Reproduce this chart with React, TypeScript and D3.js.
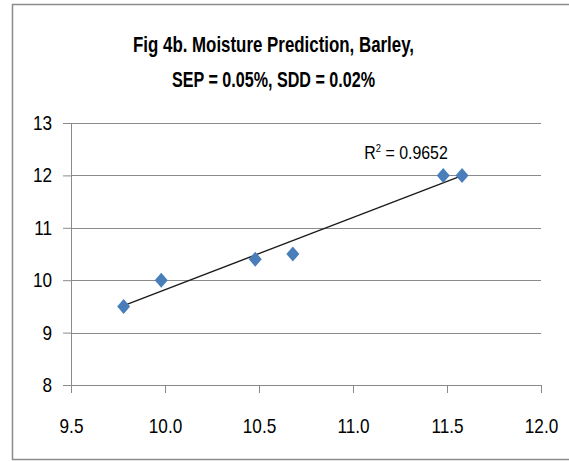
import React, { useEffect, useRef } from "react";
import * as d3 from "d3";

// Reference vs predicted moisture, barley
const predicted = [9.78, 9.98, 10.48, 10.68, 11.48, 11.58];
const reference = [9.5, 10.0, 10.4, 10.5, 12.0, 12.0];
const xTicks = [9.5, 10.0, 10.5, 11.0, 11.5, 12.0];
const yTicks = [8, 9, 10, 11, 12, 13];
const titleLines = ["Fig 4b. Moisture Prediction, Barley,", "SEP = 0.05%, SDD = 0.02%"];
const r2Label = "0.9652";

const WIDTH = 569;
const HEIGHT = 462;
const FONT = "'Liberation Sans Narrow', 'Arial Narrow', 'Liberation Sans', sans-serif";
const SQUEEZE = 0.86; // the source font is narrower than anything installed

const App: React.FC = () => {
    const svgRef = useRef<SVGSVGElement | null>(null);

    useEffect(() => {
        if (!svgRef.current) return;
        const svg = d3.select(svgRef.current);
        svg.selectAll("*").remove();

        const margin = { top: 123, right: 28, bottom: 77, left: 71 };
        const innerWidth = WIDTH - margin.left - margin.right;
        const innerHeight = HEIGHT - margin.top - margin.bottom;

        // outer frame
        svg.append("rect")
            .attr("x", 12.5)
            .attr("y", 4.5)
            .attr("width", WIDTH)
            .attr("height", 455)
            .attr("fill", "#fff")
            .attr("stroke", "#8c8c8c")
            .attr("stroke-width", 1.5);

        // title, two lines squeezed to the original widths
        const titleWidths = [281, 203];
        titleLines.forEach((t, i) => {
            svg.append("text")
                .attr("x", 273.5 - titleWidths[i] / 2)
                .attr("y", 52 + i * 35)
                .attr("font-family", FONT)
                .attr("font-weight", "bold")
                .attr("font-size", 22)
                .attr("fill", "#000")
                .attr("textLength", titleWidths[i])
                .attr("lengthAdjust", "spacingAndGlyphs")
                .text(t);
        });

        const g = svg.append("g").attr("transform", `translate(${margin.left},${margin.top})`);

        const x = d3.scaleLinear().domain([9.5, 12.0]).range([0, innerWidth]);
        const y = d3.scaleLinear().domain([8, 13]).range([innerHeight, 0]);

        // horizontal gridlines
        g.append("g")
            .selectAll("line")
            .data(yTicks)
            .join("line")
            .attr("x1", 0)
            .attr("x2", innerWidth)
            .attr("y1", d => Math.round(y(d)) + 0.5)
            .attr("y2", d => Math.round(y(d)) + 0.5)
            .attr("stroke", "#8a8a8a")
            .attr("stroke-width", 1);

        // y axis
        const yAxis = g.append("g")
            .call(d3.axisLeft(y).tickValues(yTicks).tickSize(8).tickPadding(11).tickFormat(d3.format("d")));
        yAxis.select(".domain").attr("stroke", "#8a8a8a");
        yAxis.selectAll(".tick line").attr("stroke", "#8a8a8a");
        yAxis.selectAll("text")
            .attr("font-family", FONT)
            .attr("font-size", 20)
            .attr("fill", "#000")
            .attr("x", -19 / SQUEEZE)
            .attr("transform", `scale(${SQUEEZE},1)`);

        // x axis
        const xAxis = g.append("g")
            .attr("transform", `translate(0,${innerHeight})`)
            .call(d3.axisBottom(x).tickValues(xTicks).tickSize(8).tickSizeOuter(0).tickPadding(26).tickFormat(d3.format(".1f")));
        xAxis.select(".domain").attr("stroke", "#8a8a8a");
        xAxis.selectAll(".tick line").attr("stroke", "#8a8a8a");
        xAxis.selectAll("text")
            .attr("font-family", FONT)
            .attr("font-size", 20)
            .attr("fill", "#000")
            .attr("transform", `scale(${SQUEEZE},1)`);

        // linear trendline (least squares)
        const mx = d3.mean(predicted) as number;
        const my = d3.mean(reference) as number;
        const sxy = d3.sum(predicted.map((v, i) => (v - mx) * (reference[i] - my)));
        const sxx = d3.sum(predicted.map(v => (v - mx) ** 2));
        const slope = sxy / sxx;
        const icpt = my - slope * mx;
        const [x0, x1] = d3.extent(predicted) as [number, number];
        g.append("line")
            .attr("x1", x(x0))
            .attr("y1", y(icpt + slope * x0))
            .attr("x2", x(x1))
            .attr("y2", y(icpt + slope * x1))
            .attr("stroke", "#1a1a1a")
            .attr("stroke-width", 1.3);

        // diamond markers
        const hw = 6.5;
        const hh = 7.5;
        g.append("g")
            .selectAll("path")
            .data(predicted.map((v, i) => [v, reference[i]]))
            .join("path")
            .attr("d", d => {
                const cx = x(d[0]);
                const cy = y(d[1]);
                return `M${cx},${cy - hh}L${cx + hw},${cy}L${cx},${cy + hh}L${cx - hw},${cy}Z`;
            })
            .attr("fill", "#4a7ebb");

        // R² label
        const r2 = g.append("text")
            .attr("x", 0)
            .attr("y", 0)
            .attr("transform", `translate(${x(11.06)},${y(12.32)}) scale(${SQUEEZE},1)`)
            .attr("font-family", FONT)
            .attr("font-size", 18.5)
            .attr("fill", "#000");
        r2.append("tspan").text("R");
        r2.append("tspan").attr("font-size", 11).attr("dy", -7).text("2");
        r2.append("tspan").attr("dy", 7).text(` = ${r2Label}`);
    }, []);

    return (
        <svg
            ref={svgRef}
            width={WIDTH}
            height={HEIGHT}
            style={{ position: "absolute", left: 0, top: 0, background: "#fff" }}
        />
    );
};

export default App;
